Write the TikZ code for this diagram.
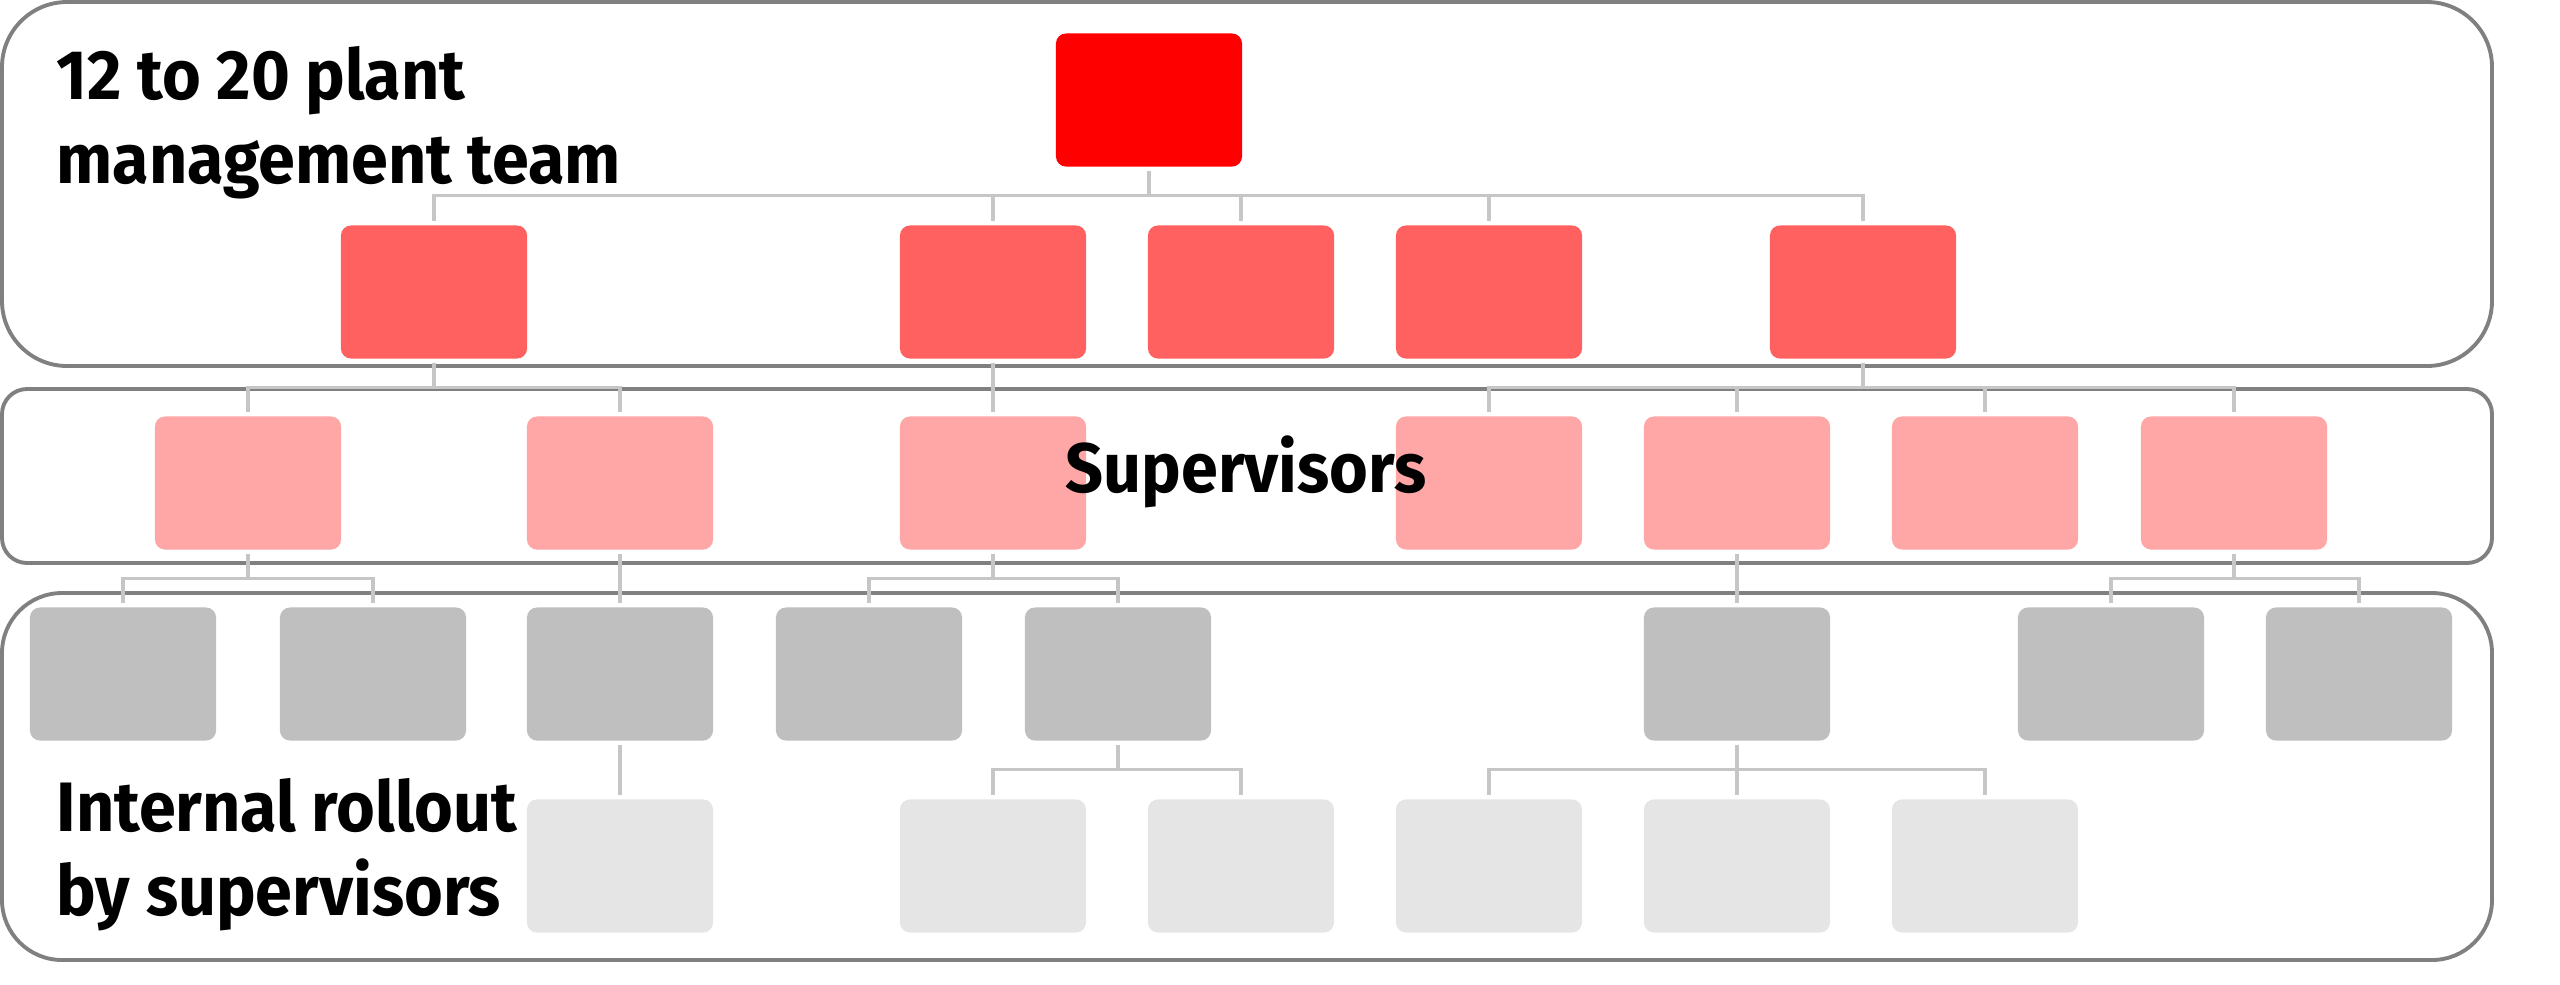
\documentclass[tikz,border=0pt]{standalone}
\usepackage{fontspec}
\setmainfont[FakeStretch=0.95]{Fira Sans}
\definecolor{headred}{HTML}{FF0000}
\definecolor{mgmtred}{HTML}{FF6060}
\definecolor{suppink}{HTML}{FFA6A6}
\definecolor{staffgray}{HTML}{BFBFBF}
\definecolor{rollgray}{HTML}{E6E5E5}
\definecolor{framegray}{HTML}{808080}
\definecolor{linkgray}{HTML}{C6C6C6}
\begin{document}
\begin{tikzpicture}[x=0.01cm,y=-0.01cm,
  box/.style={rounded corners=0.1cm,minimum width=1.86cm,minimum height=1.33cm,inner sep=0,outer sep=0.04cm},
  frame/.style={draw=framegray,line width=1.1pt},
  link/.style={draw=linkgray,line width=0.9pt},
  lbl/.style={font=\bfseries\fontsize{19.9}{23.9}\selectfont,align=left,inner sep=0}]
\useasboundingbox (0,0) rectangle (2560,984);
% the three bands
\draw [frame,rounded corners=0.65cm] (2,2) rectangle (2492,366);
\draw [frame,rounded corners=0.25cm] (2,389) rectangle (2492,563);
\draw [frame,rounded corners=0.6cm] (2,593) rectangle (2492,960);
% plant manager and team
\node [box,fill=headred] (t) at (1149,100) {};
\node [box,fill=mgmtred] (m1) at (434,292) {};
\node [box,fill=mgmtred] (m2) at (993,292) {};
\node [box,fill=mgmtred] (m3) at (1241,292) {};
\node [box,fill=mgmtred] (m4) at (1489,292) {};
\node [box,fill=mgmtred] (m5) at (1863,292) {};
% supervisors
\node [box,fill=suppink] (s1) at (248,483) {};
\node [box,fill=suppink] (s2) at (620,483) {};
\node [box,fill=suppink] (s3) at (993,483) {};
\node [box,fill=suppink] (s4) at (1489,483) {};
\node [box,fill=suppink] (s5) at (1737,483) {};
\node [box,fill=suppink] (s6) at (1985,483) {};
\node [box,fill=suppink] (s7) at (2234,483) {};
% staff
\node [box,fill=staffgray] (w1) at (123,674) {};
\node [box,fill=staffgray] (w2) at (373,674) {};
\node [box,fill=staffgray] (w3) at (620,674) {};
\node [box,fill=staffgray] (w4) at (869,674) {};
\node [box,fill=staffgray] (w5) at (1118,674) {};
\node [box,fill=staffgray] (w6) at (1737,674) {};
\node [box,fill=staffgray] (w7) at (2111,674) {};
\node [box,fill=staffgray] (w8) at (2359,674) {};
\node [box,fill=rollgray] (r1) at (620,866) {};
\node [box,fill=rollgray] (r2) at (993,866) {};
\node [box,fill=rollgray] (r3) at (1241,866) {};
\node [box,fill=rollgray] (r4) at (1489,866) {};
\node [box,fill=rollgray] (r5) at (1737,866) {};
\node [box,fill=rollgray] (r6) at (1985,866) {};
% links
\foreach \p/\kids in {t/{m1,m2,m3,m4,m5},m1/{s1,s2},m2/{s3},m5/{s4,s5,s6,s7},
    s1/{w1,w2},s2/{w3},s3/{w4,w5},s5/{w6},s7/{w7,w8},w3/{r1},w5/{r2,r3},w6/{r4,r5,r6}}
  \foreach \k in \kids
    \draw [link] (\p.south) -- ++(0,25) -| (\k.north);
% band labels
\node [lbl,anchor=north west] (mgmt) at (56,46) {12 to 20 plant\\management team};
\node [lbl] (sup) at (1246,472) {Supervisors};
\node [lbl,anchor=north west] (roll) at (56,778) {Internal rollout\\by supervisors};
\end{tikzpicture}
\end{document}
